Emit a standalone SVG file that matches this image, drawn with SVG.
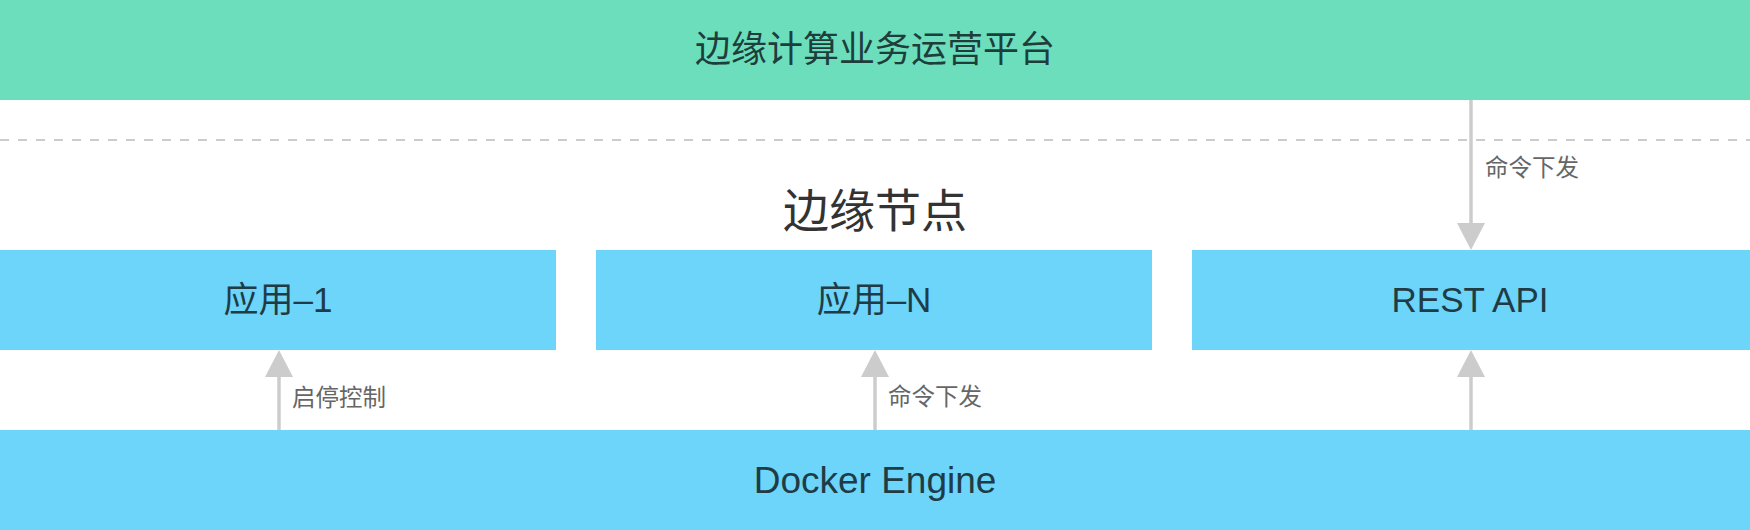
<svg xmlns="http://www.w3.org/2000/svg" width="1750" height="530" viewBox="0 0 1750 530">
<style>
text{font-family:"Liberation Sans","Noto Sans CJK SC",sans-serif;text-anchor:middle;dominant-baseline:central}
.big{font-size:35px;fill:#1f3c46}
.lbl{font-size:23.5px;fill:#666;text-anchor:start}
.green{fill:#6cdebc}
.blue{fill:#6dd4fa}
.conn{stroke:#cccccc;stroke-width:3.5;fill:none}
</style>
<defs>
<marker id="arr" viewBox="0 0 27 28" refX="0" refY="14" markerWidth="27" markerHeight="28" markerUnits="userSpaceOnUse" orient="auto">
<path d="M0,0 L27,14 L0,28 z" fill="#cccccc"/>
</marker>
</defs>
<rect width="1750" height="530" fill="#ffffff"/>
<g id="platform">
<rect class="green" x="0" y="0" width="1750" height="100"/>
<text class="big" x="875" y="49" style="font-size:36px;fill:#1e3e3c">边缘计算业务运营平台</text>
</g>
<line x1="0" y1="140" x2="1750" y2="140" stroke="#cccccc" stroke-width="2.2" stroke-dasharray="9 9"/>
<text id="edge-title" x="875" y="211" style="font-size:46px;fill:#333">边缘节点</text>
<g id="app1">
<rect class="blue" x="0" y="250" width="556" height="100"/>
<text class="big" x="278" y="299">应用–1</text>
</g>
<g id="appN">
<rect class="blue" x="596" y="250" width="556" height="100"/>
<text class="big" x="874" y="299">应用–N</text>
</g>
<g id="restapi">
<rect class="blue" x="1192" y="250" width="558" height="100"/>
<text class="big" x="1470" y="299">REST API</text>
</g>
<g id="docker">
<rect class="blue" x="0" y="430" width="1750" height="100"/>
<text class="big" x="875" y="480" style="font-size:37px">Docker Engine</text>
</g>
<g id="connectors">
<line class="conn" x1="1471" y1="100" x2="1471" y2="223" marker-end="url(#arr)"/>
<text class="lbl" x="1485" y="168">命令下发</text>
<line class="conn" x1="279" y1="430" x2="279" y2="377" marker-end="url(#arr)"/>
<text class="lbl" x="292" y="398">启停控制</text>
<line class="conn" x1="875" y1="430" x2="875" y2="377" marker-end="url(#arr)"/>
<text class="lbl" x="888" y="397">命令下发</text>
<line class="conn" x1="1471" y1="430" x2="1471" y2="377" marker-end="url(#arr)"/>
</g>
</svg>
